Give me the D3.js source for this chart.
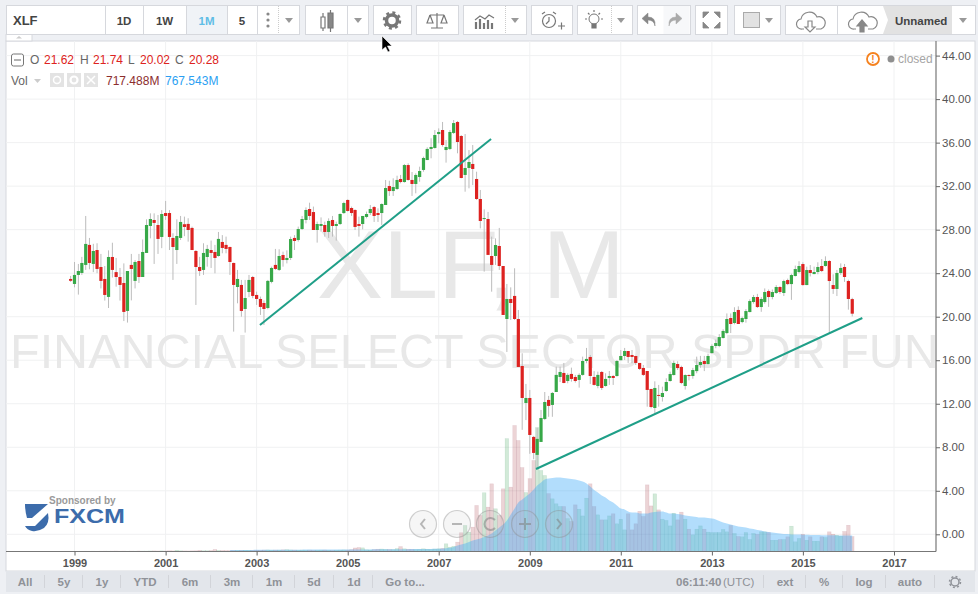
<!DOCTYPE html>
<html>
<head>
<meta charset="utf-8">
<script src="https://cdnjs.cloudflare.com/ajax/libs/d3/7.8.5/d3.min.js"></script>
<style>
    html, body { margin: 0; padding: 0; background: #eef0f4; overflow: hidden; }
    svg text { font-family: "Liberation Sans", Arial, sans-serif; }
</style>
</head>
<body>
<svg id="chart" width="978" height="594"></svg>
<script>
//
// Monthly candles for XLF, Dec 1998 to Feb 2016, with volume and its moving average.
//
var firstMonth = [1998, 11]; // Year and zero based month of the first candle.

var opens = [
    23.47,23.01,23.84,24.02,24.76,26.6,24.85,26.13,24.57,23.47,
    21.82,25.49,24.1,23.65,23.1,20.53,24.76,23.29,25.12,23.65,
    25.86,28.34,28.89,28.43,27.33,29.53,29.53,27.24,26.13,27.24,
    28.5,28.53,28.16,26.04,24.57,24.3,25.49,26.13,25.95,25.58,
    26.87,26.6,26.41,24.94,22.73,22.92,20.71,22.27,23.65,22.0,
    21.63,21.26,20.8,23.2,24.76,24.3,25.67,25.21,25.4,27.24,
    27.05,28.06,28.89,29.9,29.62,27.97,28.34,28.43,27.79,28.89,
    28.34,28.52,29.53,30.73,29.99,29.81,28.52,28.52,29.17,29.53,
    30.08,29.53,29.53,30.27,32.01,31.55,31.74,32.66,32.38,33.94,
    32.57,32.2,32.84,33.49,34.4,35.42,35.51,36.79,37.16,35.32,
    35.42,36.89,37.9,36.61,33.03,33.67,34.04,32.66,30.82,28.98,
    28.98,25.58,25.58,26.5,24.66,19.79,21.63,21.91,19.79,15.47,
    12.07,12.53,8.95,7.3,8.49,10.6,12.35,11.89,13.08,14.46,
    14.83,14.09,14.74,14.46,14.19,14.65,15.93,16.3,14.46,13.63,
    14.92,13.63,14.37,14.55,14.55,16.0,16.39,16.85,16.48,16.39,
    15.75,15.29,15.01,13.36,11.61,12.81,12.62,13.17,14.09,14.64,
    15.65,15.38,13.63,14.64,14.55,15.0,15.56,15.93,15.65,16.66,
    17.31,17.31,18.04,18.5,19.88,19.42,20.62,19.51,19.79,20.43,
    21.35,21.81,20.89,21.35,22.36,21.81,22.18,22.73,22.18,23.37,
    23.0,23.74,24.11,24.84,22.91,24.29,23.92,24.11,24.66,24.66,
    25.12,22.91,22.55,24.02,24.57,23.28,21.62
];
var highs = [
    23.75,25.03,24.85,25.5,29.26,27.24,26.7,26.75,25.77,24.66,
    26.1,26.8,25.4,24.48,24.9,24.2,25.77,25.2,25.77,27.1,
    28.95,29.5,29.5,29.35,29.8,30.64,29.8,27.67,28.95,29.26,
    29.2,29.05,28.28,26.13,25.5,26.75,26.6,27.0,26.6,27.79,
    27.5,27.36,26.44,24.97,24.3,23.38,23.38,23.84,23.75,22.3,
    21.85,21.5,23.38,24.6,26.23,26.2,25.98,26.1,27.36,27.5,
    28.28,29.26,30.05,30.48,30.12,28.74,29.13,28.74,29.04,29.26,
    28.74,29.5,30.57,30.79,30.12,29.87,29.2,29.26,29.66,30.27,
    30.18,29.96,30.42,32.57,32.5,32.72,32.96,33.03,34.04,34.1,
    33.3,33.18,33.79,34.71,35.57,36.4,37.16,37.31,37.9,36.24,
    37.16,38.08,37.99,36.7,36.79,35.32,35.78,33.33,31.65,29.87,
    29.63,27.36,27.2,28.16,24.66,23.01,22.7,24.45,20.62,16.64,
    13.82,13.27,9.04,9.8,11.43,13.08,12.72,13.08,15.41,15.41,
    15.75,14.8,15.32,14.65,14.8,16.33,17.13,16.48,15.0,14.95,
    15.01,14.8,15.01,14.65,16.02,16.94,17.13,16.85,16.94,16.39,
    15.75,15.56,15.01,13.36,14.06,13.73,13.57,14.34,14.95,15.96,
    15.9,15.5,14.7,14.7,15.3,16.33,16.4,16.4,16.6,17.46,
    17.9,18.4,18.85,20.3,20.3,20.87,20.95,20.0,20.7,21.6,
    22.0,22.1,21.8,22.6,22.5,22.5,22.9,22.8,23.4,23.5,
    23.95,24.7,25.1,25.0,24.6,24.75,24.6,25.0,25.3,25.55,
    25.2,23.9,24.3,24.9,24.85,23.4,21.74
];
var lows = [
    23.2,22.7,22.03,23.84,24.3,24.36,24.1,24.0,22.6,21.48,
    20.8,23.6,22.76,21.48,19.6,19.46,21.5,22.6,23.1,23.65,
    25.9,27.2,24.85,25.77,26.3,28.9,26.13,23.38,24.85,27.05,
    27.4,26.9,26.13,21.08,23.75,23.84,24.6,24.48,23.99,25.52,
    25.83,25.83,23.84,18.63,21.23,20.0,18.54,21.8,21.7,21.08,
    20.16,19.24,20.68,23.07,24.3,24.2,24.6,24.9,25.21,26.13,
    26.9,27.97,28.58,28.89,27.97,26.81,27.82,27.36,27.24,27.36,
    26.99,28.43,29.44,29.66,29.26,27.97,27.36,28.03,29.04,29.35,
    28.71,28.71,28.43,30.27,31.1,31.1,31.65,32.26,32.32,32.5,
    31.1,31.34,32.41,33.33,34.4,34.56,35.45,35.94,35.63,34.16,
    35.32,36.79,35.02,32.72,31.49,31.8,32.1,30.73,28.12,24.14,
    25.68,22.3,24.76,24.3,20.16,16.76,19.7,19.7,15.38,9.6,
    10.5,7.4,6.9,6.04,8.49,10.5,10.8,10.8,13.08,14.0,
    13.88,13.88,14.03,13.94,13.48,14.58,15.72,13.82,13.67,13.42,
    13.27,13.57,13.73,13.73,14.49,16.0,16.02,15.75,15.72,15.56,
    15.1,14.55,11.73,11.58,11.12,11.73,12.2,13.1,14.03,14.6,
    15.1,13.8,13.3,14.15,14.3,14.8,15.3,15.0,15.6,16.6,
    17.1,17.2,18.0,18.4,18.5,19.3,19.33,19.4,19.45,20.4,
    21.2,20.8,20.45,21.2,20.9,21.6,22.1,22.1,21.9,22.9,
    21.55,23.7,24.0,22.85,22.9,23.7,23.9,23.9,24.1,24.6,
    18.5,22.1,21.9,23.85,23.2,20.65,20.02
];
var closes = [
    23.3,23.84,24.2,24.94,26.69,24.94,26.04,24.39,23.29,22.0,
    25.49,24.3,23.65,22.92,20.44,24.2,24.39,25.03,23.65,25.95,
    28.43,28.98,28.62,27.15,29.44,29.26,27.33,26.41,27.42,28.71,
    28.25,27.97,26.13,24.57,24.2,25.86,26.23,25.86,25.4,27.15,
    26.32,26.23,25.03,22.92,23.47,20.53,21.72,23.38,21.91,21.63,
    20.9,20.71,23.29,24.48,24.39,25.58,25.21,25.4,27.14,26.96,
    28.06,28.98,29.81,29.26,27.97,28.52,28.52,27.79,28.8,28.34,
    28.52,29.44,30.45,29.72,29.53,28.25,28.34,29.26,29.44,29.9,
    29.26,29.35,30.36,31.83,31.55,31.92,32.57,32.38,33.94,32.57,
    32.2,33.03,33.39,34.59,35.42,35.6,36.7,36.98,35.78,35.6,
    36.98,37.8,36.06,32.75,33.67,34.22,33.58,30.82,28.8,29.07,
    25.68,24.76,26.59,24.66,20.16,21.63,21.26,19.79,15.38,12.53,
    12.53,9.13,7.48,8.77,10.69,12.16,11.8,12.99,14.65,14.92,
    13.91,14.65,14.28,14.09,14.65,15.93,16.12,14.55,13.73,14.65,
    13.45,14.28,14.55,14.37,15.93,16.39,16.85,16.3,16.3,15.75,
    15.2,14.65,13.27,11.7,13.45,12.72,12.99,14.0,14.73,15.75,
    15.28,13.91,14.64,14.55,15.1,15.56,15.84,15.65,16.39,17.31,
    17.58,18.13,18.69,19.79,19.33,20.43,19.33,19.88,20.52,21.44,
    21.81,20.89,21.63,22.27,21.81,22.27,22.73,22.27,23.28,23.0,
    23.83,24.38,24.66,22.91,24.29,24.02,24.11,24.57,24.2,25.12,
    23.28,22.55,24.02,24.48,23.65,21.63,20.28
];
var volumes = [ // Millions of shares.
    8,10,12,9,14,11,15,12,16,20,
    18,22,25,20,24,18,22,20,26,24,
    22,28,30,26,32,28,35,30,60,35,
    30,28,32,35,60,40,38,45,95,55,
    50,45,40,48,52,55,60,58,55,62,
    60,70,75,65,70,72,80,90,75,70,
    65,72,60,68,58,62,65,70,60,55,
    62,68,75,72,90,170,190,175,80,70,
    90,110,120,100,95,90,140,235,130,110,
    100,95,105,130,110,100,120,130,150,370,
    210,255,450,900,1250,930,1170,2210,1730,2820,
    2130,3250,2050,1730,3010,5420,3090,6050,5330,4030,
    2830,3500,4370,5950,3890,3650,2780,2530,2290,2160,
    2160,1580,1440,2240,2030,1710,2560,3250,2160,1760,
    1520,1520,1710,1810,1330,1550,1040,1810,1040,1330,
    1930,1680,3200,2190,2770,2000,1550,1490,1230,1840,
    1520,1890,1550,1070,800,1070,1230,1070,930,910,
    910,910,1060,945,1250,865,720,705,910,575,
    865,815,945,945,910,540,540,575,575,705,
    1215,465,625,830,540,705,495,495,705,670,
    945,830,780,735,960,1260,717.488
];
var volumeAverageStart = 42; // The average has no value before this candle.
var volumeAverage = [ // One value per candle from volumeAverageStart on.
    70,72,74,75,76,77,78,79,80,81,
    82,83,84,85,86,87,88,89,90,90,
    91,91,92,92,93,93,94,94,95,95,
    96,96,97,98,99,100,101,102,103,104,
    105,106,107,108,109,110,112,114,116,118,
    120,122,124,126,128,130,144,158,182,216,
    288,336,384,456,528,576,624,696,768,864,
    1008,1152,1296,1488,1776,2064,2352,2496,2640,2784,
    2976,3168,3312,3456,3504,3528,3552,3552,3528,3504,
    3480,3456,3408,3360,3264,3120,2950,2830,2690,2590,
    2450,2350,2210,2060,2020,1920,1870,1870,1830,1820,
    1820,1870,1900,1920,1920,1870,1820,1820,1800,1780,
    1730,1700,1680,1660,1630,1630,1610,1580,1540,1460,
    1390,1340,1300,1250,1200,1180,1150,1100,1080,1030,
    1010,960,940,910,890,860,840,840,815,815,
    815,805,800,795,790,790,785,780,778,775,
    772,770,769,768,767.543
];
var yearTicks = [1999, 2001, 2003, 2005, 2007, 2009, 2011, 2013, 2015, 2017];
var priceTicks = [0, 4, 8, 12, 16, 20, 24, 28, 32, 36, 40, 44];
var trendLines = [
    { dates: ["2003-01-28", "2008-02-25"], prices: [19.23, 36.33] },
    { dates: ["2009-02-20", "2016-04-22"], prices: [6.0, 19.88] }
];
var footerRanges = ["All", "5y", "1y", "YTD", "6m", "3m", "1m", "5d", "1d", "Go to..."];
var footerOptions = ["ext", "%", "log", "auto"];

var svg = d3.select("#chart");
var gray = "#8f9298", border = "#d6d8dd", green = "#37a848", red = "#dd2220";
var plot = { left: 6, right: 936, top: 41, bottom: 551.5 };

var x = d3.scaleTime()
    .domain([new Date(1999, 0, 1), new Date(2017, 0, 1)])
    .range([74.5, 894]);
var y = d3.scaleLinear() // Price scale for the candles.
    .domain([0, 44])
    .range([534.3, 55.6]);
var volumeY = d3.scaleLinear() // Volume sits on its own scale along the bottom.
    .domain([0, 6050])
    .range([plot.bottom, plot.bottom - 126]);

var candles = opens.map(function (open, index) {
    return {
        date: new Date(firstMonth[0], firstMonth[1] + index, 1),
        open: open, high: highs[index], low: lows[index], close: closes[index],
        volume: volumes[index],
        average: index >= volumeAverageStart ? volumeAverage[index - volumeAverageStart] : null
    };
});

// Panel and chrome behind the chart.
svg.append("rect").attr("x", 6).attr("y", 41).attr("width", 969).attr("height", 530).attr("fill", "#fff").attr("stroke", border);
svg.append("rect").attr("x", 6).attr("y", 571).attr("width", 969).attr("height", 21).attr("fill", "#e3e6eb");
svg.append("rect").attr("x", 6).attr("y", 34.5).attr("width", 26).attr("height", 6.5).attr("fill", "#fff").attr("stroke", border);
svg.append("path").attr("d", "M16,38.5 l3,-2.5 l3,2.5 z").attr("fill", "#ccc");

svg.append("clipPath").attr("id", "plotClip").append("rect")
    .attr("x", plot.left + 1).attr("y", plot.top)
    .attr("width", plot.right - plot.left - 1).attr("height", plot.bottom - plot.top);

// Grid lines.
var grid = svg.append("g").attr("stroke", "#f0f1f2").attr("stroke-width", 1);
grid.selectAll(".v").data(yearTicks).enter().append("line")
    .attr("x1", function (year) { return x(new Date(year, 0, 1)); })
    .attr("x2", function (year) { return x(new Date(year, 0, 1)); })
    .attr("y1", plot.top).attr("y2", plot.bottom);
grid.selectAll(".h").data(priceTicks).enter().append("line")
    .attr("x1", plot.left).attr("x2", plot.right)
    .attr("y1", function (price) { return y(price); })
    .attr("y2", function (price) { return y(price); });

// Symbol watermark.
var watermark = svg.append("g").attr("clip-path", "url(#plotClip)").attr("fill", "#e8e8e8");
watermark.append("text").attr("x", 317).attr("y", 298).attr("font-size", 96)
    .attr("textLength", 308).attr("lengthAdjust", "spacingAndGlyphs").text("XLF, M");
watermark.append("text").attr("x", 10).attr("y", 368).attr("font-size", 48.5)
    .text("FINANCIAL SELECT SECTOR SPDR FUND");

// Volume columns, with the average laid over them.
var volumeLayer = svg.append("g").attr("clip-path", "url(#plotClip)");
volumeLayer.selectAll("rect").data(candles).enter().append("rect")
    .attr("x", function (d) { return x(d.date) - 1.8; })
    .attr("width", 3.6)
    .attr("y", function (d) { return volumeY(d.volume); })
    .attr("height", function (d) { return plot.bottom - volumeY(d.volume); })
    .attr("fill", function (d) { return d.close >= d.open ? "rgba(30,150,60,0.2)" : "rgba(160,40,50,0.2)"; })
    .attr("stroke", function (d) { return d.close >= d.open ? "rgba(30,130,80,0.15)" : "rgba(140,40,70,0.15)"; })
    .attr("stroke-width", 0.5);

var averageArea = d3.area()
    .defined(function (d) { return d.average !== null; })
    .x(function (d) { return x(d.date); })
    .y0(plot.bottom)
    .y1(function (d) { return volumeY(d.average); })
    .curve(d3.curveMonotoneX);
volumeLayer.append("path").datum(candles).attr("d", averageArea).attr("fill", "rgba(62,170,248,0.4)");

// Candles.
var candleLayer = svg.append("g").attr("clip-path", "url(#plotClip)");
var candle = candleLayer.selectAll("g").data(candles).enter().append("g");
candle.append("line")
    .attr("x1", function (d) { return x(d.date); })
    .attr("x2", function (d) { return x(d.date); })
    .attr("y1", function (d) { return y(d.high); })
    .attr("y2", function (d) { return y(d.low); })
    .attr("stroke", "#bcbcbc").attr("stroke-width", 1);
candle.append("rect")
    .attr("x", function (d) { return x(d.date) - 1.6; })
    .attr("width", 3.2)
    .attr("y", function (d) { return y(Math.max(d.open, d.close)); })
    .attr("height", function (d) { return Math.max(1, Math.abs(y(d.open) - y(d.close))); })
    .attr("fill", function (d) { return d.close >= d.open ? green : red; });

// Trend lines drawn by hand on the chart.
var trendLine = d3.line().x(function (p) { return x(p[0]); }).y(function (p) { return y(p[1]); });
svg.append("g").selectAll("path").data(trendLines).enter().append("path")
    .attr("d", function (line) {
        return trendLine(line.dates.map(function (date, index) { return [new Date(date), line.prices[index]]; }));
    })
    .attr("fill", "none").attr("stroke", "#1f9f88").attr("stroke-width", 2);

// Axes.
var xAxis = svg.append("g").attr("transform", "translate(0," + plot.bottom + ")")
    .call(d3.axisBottom(x)
        .tickValues(yearTicks.map(function (year) { return new Date(year, 0, 1); }))
        .tickFormat(d3.timeFormat("%Y")).tickSize(4).tickPadding(4));
xAxis.select(".domain").attr("d", "M" + plot.left + ",0H" + plot.right).attr("stroke", "#777").attr("stroke-width", 1.2);
xAxis.selectAll("line").attr("stroke", "#666");
xAxis.selectAll("text").attr("font-size", 11).attr("font-weight", "bold").attr("fill", "#555").style("font-family", "Liberation Sans");

var yAxis = svg.append("g").attr("transform", "translate(" + plot.right + ",0)")
    .call(d3.axisRight(y).tickValues(priceTicks).tickFormat(d3.format(".2f")).tickSize(4).tickPadding(2));
yAxis.select(".domain").attr("d", "M0," + plot.top + "V" + plot.bottom).attr("stroke", "#777").attr("stroke-width", 1.2);
yAxis.selectAll("line").attr("stroke", "#666");
yAxis.selectAll("text").attr("font-size", 11.5).attr("fill", "#555").style("font-family", "Liberation Sans");

function label (parent, text, px, py, size, fill, weight, anchor) { // Helper for the many small texts.
    return parent.append("text").attr("x", px).attr("y", py).attr("font-size", size)
        .attr("fill", fill).attr("font-weight", weight || "normal").attr("text-anchor", anchor || "start").text(text);
}

// Legend at the top left.
var legend = svg.append("g");
legend.append("rect").attr("x", 11.5).attr("y", 54).attr("width", 12).attr("height", 12).attr("rx", 2).attr("fill", "#fff").attr("stroke", "#777");
legend.append("line").attr("x1", 14).attr("x2", 21).attr("y1", 60).attr("y2", 60).attr("stroke", "#666");
[["O", 30, "21.62", 44], ["H", 80, "21.74", 93], ["L", 128, "20.02", 140], ["C", 175, "20.28", 189]].forEach(function (item) {
    label(legend, item[0], item[1], 64, 12, "#666");
    label(legend, item[2], item[3], 64, 12, red);
});
label(legend, "Vol", 11, 85, 12, "#666");
legend.append("path").attr("d", "M34,79 h7 l-3.5,4 z").attr("fill", "#ccc");
[50, 67, 84].forEach(function (px) {
    legend.append("rect").attr("x", px).attr("y", 73).attr("width", 14).attr("height", 14).attr("fill", "#e3e3e3");
});
legend.append("circle").attr("cx", 57).attr("cy", 80).attr("r", 3.5).attr("fill", "none").attr("stroke", "#fff").attr("stroke-width", 1.5);
legend.append("circle").attr("cx", 74).attr("cy", 80).attr("r", 3.5).attr("fill", "none").attr("stroke", "#fff").attr("stroke-width", 2.2);
legend.append("path").attr("d", "M87,76 l8,8 M95,76 l-8,8").attr("stroke", "#fff").attr("stroke-width", 1.5);
label(legend, "717.488M", 106, 85, 12, "#8c2e2e");
label(legend, "767.543M", 165, 85, 12, "#2b9ff2");

// Market status.
svg.append("circle").attr("cx", 873).attr("cy", 59).attr("r", 6).attr("fill", "#fff").attr("stroke", "#f5821f").attr("stroke-width", 1.8);
label(svg, "!", 873, 63, 10, "#f5821f", "bold", "middle");
svg.append("circle").attr("cx", 891).attr("cy", 59).attr("r", 3.5).attr("fill", "#8f8f8f");
label(svg, "closed", 898, 63, 12, "#a5a5a5");

// Sponsor mark.
label(svg, "Sponsored by", 49, 504, 10, "#9a9a9a", "bold");
label(svg, "FXCM", 54, 523, 20, "#3c6cab", "bold").attr("textLength", 71).attr("lengthAdjust", "spacingAndGlyphs");
svg.append("path").attr("d", "M25,504 H48 L32,518 H27 Q25,511 25,504 z").attr("fill", "#3c6cab");
svg.append("path").attr("d", "M48,513 Q50,523 44,528 Q38,532 32,531 Q27,530 25,526 H35 L48,513 z").attr("fill", "#3c6cab");

// Round navigation buttons.
var navigation = svg.append("g");
[[423, "M425,519 l-4,5 l4,5"], [457, "M452,524 h10"], [490, "M495,520 a6,6 0 1 0 0,8"], [525, "M519,524 h12 M525,518 v12"], [559, "M557,519 l4,5 l-4,5"]].forEach(function (button) {
    navigation.append("circle").attr("cx", button[0]).attr("cy", 524).attr("r", 13.5)
        .attr("fill", "rgba(190,190,190,0.14)").attr("stroke", "rgba(140,140,140,0.4)").attr("stroke-width", 1.2);
    navigation.append("path").attr("d", button[1]).attr("fill", "none").attr("stroke", "rgba(130,130,130,0.55)").attr("stroke-width", 2);
});

// Bottom bar.
var footer = svg.append("g");
var rangeCentres = [25, 64, 102, 145, 190, 232, 274, 314, 354, 405];
footerRanges.forEach(function (text, index) {
    label(footer, text, rangeCentres[index], 586, 11.5, gray, "bold", "middle");
});
[44.5, 82.5, 120.5, 168.5, 210.5, 252.5, 294.5, 333.5, 372.5, 763.5, 805.5, 842.5, 885.5, 934.5].forEach(function (px) {
    footer.append("line").attr("x1", px).attr("x2", px).attr("y1", 575).attr("y2", 588).attr("stroke", "#d2d4d9");
});
label(footer, "06:11:40", 676, 586, 11.5, gray, "bold");
label(footer, "(UTC)", 723, 586, 11.5, gray);
var optionCentres = [785, 824, 864, 910];
footerOptions.forEach(function (text, index) {
    label(footer, text, optionCentres[index], 586, 11.5, gray, "bold", "middle");
});
footer.append("circle").attr("cx", 955).attr("cy", 582).attr("r", 4).attr("fill", "none").attr("stroke", gray).attr("stroke-width", 1.5);
footer.append("circle").attr("cx", 955).attr("cy", 582).attr("r", 5.5).attr("fill", "none").attr("stroke", gray).attr("stroke-width", 1.5).attr("stroke-dasharray", "2 2.3");

// Toolbar along the top.
var toolbar = svg.append("g");
function box (x0, x1, fill) {
    toolbar.append("rect").attr("x", x0 + 0.5).attr("y", 5.5).attr("width", x1 - x0).attr("height", 29)
        .attr("fill", fill || "#fff").attr("stroke", border);
}
function caret (cx) {
    toolbar.append("path").attr("d", "M" + (cx - 4) + ",18 h8 l-4,5 z").attr("fill", "#999");
}
function icon (d, stroke, fill, width) {
    toolbar.append("path").attr("d", d).attr("fill", fill || "none").attr("stroke", stroke || "#777").attr("stroke-width", width || 1.2);
}
function cloud (cx) {
    icon("M" + (cx - 6) + ",29 H" + (cx - 8) + " a5,5 0 0 1 -1,-10 a8.5,8.5 0 0 1 16,-2 a6,6 0 0 1 4,12 H" + (cx + 6), "#888");
}
box(6, 105);
label(toolbar, "XLF", 13, 25, 13, "#444", "bold");
[[105, 143, "1D"], [143, 186, "1W"], [186, 227, "1M"], [227, 257, "5"]].forEach(function (item) {
    box(item[0], item[1], item[2] === "1M" ? "#f0f3f7" : "#fff");
    label(toolbar, item[2], (item[0] + item[1]) / 2, 25, 11.5, item[2] === "1M" ? "#5fbde6" : "#444", "bold", "middle");
});
box(257, 299);
[14, 20, 26].forEach(function (py) { toolbar.append("circle").attr("cx", 268).attr("cy", py).attr("r", 1.6).attr("fill", "#888"); });
toolbar.append("line").attr("x1", 278.5).attr("x2", 278.5).attr("y1", 6).attr("y2", 34).attr("stroke", "#ccc").attr("stroke-dasharray", "1 1");
caret(289);
box(305, 368);
toolbar.append("line").attr("x1", 347.5).attr("x2", 347.5).attr("y1", 6).attr("y2", 34).attr("stroke", border);
icon("M321,17 h4 v11 h-4 z M323,13 v4 M323,28 v3");
icon("M328,13 h5 v15 h-5 z M330.5,10 v3 M330.5,28 v4", "#777", "#888");
caret(358);
box(373, 411);
toolbar.append("circle").attr("cx", 392).attr("cy", 20.5).attr("r", 5.5).attr("fill", "none").attr("stroke", "#777").attr("stroke-width", 3.5);
toolbar.append("circle").attr("cx", 392).attr("cy", 20.5).attr("r", 8).attr("fill", "none").attr("stroke", "#777").attr("stroke-width", 2.5).attr("stroke-dasharray", "3 3.3");
box(416, 458);
icon("M437,13 v15 M431,28 h12 M430,15 h14 M430,15 l-3,8 h6 l-3,-8 M444,15 l-3,8 h6 l-3,-8");
box(463, 526);
toolbar.append("line").attr("x1", 505.5).attr("x2", 505.5).attr("y1", 6).attr("y2", 34).attr("stroke", "#ccc").attr("stroke-dasharray", "1 1");
icon("M476,29 v-7 M480,29 v-10 M484,29 v-6 M488,29 v-9 M492,29 v-6", "#777", "none", 2.2);
icon("M475,20 l5,-4 l5,3 l4,-4 l5,3");
caret(515);
box(531, 572);
toolbar.append("circle").attr("cx", 549).attr("cy", 21).attr("r", 6.5).attr("fill", "none").attr("stroke", "#777").attr("stroke-width", 1.2);
icon("M549,17 v4 l-3,3 M542,14 l3,-2 M556,14 l-3,-2 M558,26 h7 M561.5,22.5 v7");
box(577, 632);
toolbar.append("line").attr("x1", 611.5).attr("x2", 611.5).attr("y1", 6).attr("y2", 34).attr("stroke", "#ccc").attr("stroke-dasharray", "1 1");
toolbar.append("circle").attr("cx", 594).attr("cy", 19).attr("r", 5).attr("fill", "none").attr("stroke", "#777");
icon("M592,24 h4 v4 h-4 z", "#777", "#777");
icon("M594,10 v2 M585,19 h2 M601,19 h2 M588,13 l1.5,1.5 M600,13 l-1.5,1.5");
caret(621);
box(637, 690);
toolbar.append("rect").attr("x", 663.5).attr("y", 6).attr("width", 26).attr("height", 28).attr("fill", "#f7f8fa");
icon("M655,26 q-1,-6 -7,-6 v4 l-6,-5.5 l6,-5.5 v4 q8,0 7,9 z", "#888", "#888", 0.5);
icon("M669,26 q1,-6 7,-6 v4 l6,-5.5 l-6,-5.5 v4 q-8,0 -7,9 z", "#aaa", "#aaa", 0.5);
box(695, 727);
icon("M703,12 l6,0 l-6,6 z M720,12 l-6,0 l6,6 z M703,28 l6,0 l-6,-6 z M720,28 l-6,0 l6,-6 z", "#888", "#888", 0.8);
box(734, 780);
toolbar.append("rect").attr("x", 743.5).attr("y", 12.5).attr("width", 16).attr("height", 15).attr("fill", "#e2e2e2").attr("stroke", "#aaa");
caret(769);
box(785, 975);
toolbar.append("rect").attr("x", 883).attr("y", 6).attr("width", 69).attr("height", 28).attr("fill", "#e2e2e2");
toolbar.append("path").attr("d", "M883,6 l5,14 l-5,14 z").attr("fill", "#fff");
toolbar.append("line").attr("x1", 837.5).attr("x2", 837.5).attr("y1", 6).attr("y2", 34).attr("stroke", border);
cloud(810);
icon("M808,21 h4 v6 h3 l-5,5 l-5,-5 h3 z", "#888", "#fff");
cloud(862);
icon("M860,32 v-6 h-3 l5,-6 l5,6 h-3 v6 z", "#888", "#888");
label(toolbar, "Unnamed", 895, 24.5, 11.5, "#444", "bold");
caret(963);

// The mouse pointer caught in the screenshot.
svg.append("path").attr("d", "M382,36 v14 l3.5,-3 l2.5,5 l2,-1 l-2.5,-5 l4.5,0 z").attr("fill", "#000").attr("stroke", "#fff").attr("stroke-width", 0.6);
</script>
</body>
</html>
